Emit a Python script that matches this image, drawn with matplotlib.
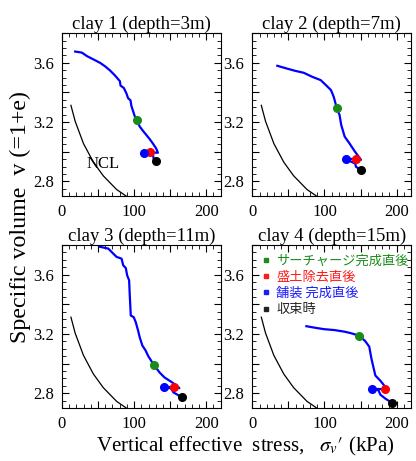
import matplotlib
matplotlib.use('Agg')
import matplotlib.pyplot as plt
from matplotlib.ticker import MultipleLocator, FuncFormatter
from matplotlib.lines import Line2D

plt.rcParams['font.family'] = ['Liberation Serif', 'Noto Sans CJK JP']
plt.rcParams['mathtext.fontset'] = 'stix'

titles = ['clay 1 (depth=3m)', 'clay 2 (depth=7m)',
          'clay 3 (depth=11m)', 'clay 4 (depth=15m)']

# stress path of each layer (kPa, specific volume)
clay1_s = [18.3, 27.5, 34.4, 43.6, 52.8, 59.6, 66.5, 73.4, 80.3, 81.2, 85.8, 89.4,
           91.7, 95.0, 96.3, 98.6, 100.9, 103.7, 107.8, 112.4, 117.0, 121.6, 126.1,
           130.7, 133.0, 122.5, 113.8, 126.1, 127.1, 130.7]
clay1_v = [3.676, 3.669, 3.646, 3.623, 3.600, 3.577, 3.549, 3.515, 3.476, 3.446, 3.430,
           3.393, 3.361, 3.347, 3.308, 3.274, 3.239, 3.211, 3.170, 3.140, 3.113, 3.085,
           3.055, 3.021, 2.993, 2.995, 2.993, 2.984, 2.952, 2.936]
clay2_s = [34.6, 47.4, 59.2, 71.1, 82.9, 94.8, 101.9, 109.0, 112.8, 117.1, 120.9,
           123.2, 128.0, 135.1, 142.2, 150.7, 143.1, 129.4, 142.7, 143.6, 150.7]
clay2_v = [3.580, 3.562, 3.546, 3.533, 3.506, 3.483, 3.450, 3.416, 3.371, 3.293, 3.248,
           3.181, 3.102, 3.053, 3.001, 2.945, 2.952, 2.950, 2.920, 2.898, 2.878]
clay3_s = [52.8, 64.2, 71.1, 75.7, 82.6, 84.9, 88.5, 90.4, 93.1, 94.0, 95.4, 99.5,
           102.3, 105.5, 107.8, 111.5, 116.1, 119.3, 127.5, 135.3, 142.2, 151.4, 158.3,
           162.8, 156.0, 141.3, 151.4, 154.6, 166.1]
clay3_v = [3.788, 3.776, 3.742, 3.720, 3.708, 3.663, 3.645, 3.595, 3.562, 3.460, 3.324,
           3.313, 3.279, 3.223, 3.177, 3.121, 3.087, 3.053, 2.990, 2.940, 2.906, 2.877,
           2.854, 2.834, 2.843, 2.841, 2.832, 2.805, 2.773]
clay4_s = [74.9, 87.7, 99.5, 113.7, 128.0, 137.4, 147.9, 156.4, 162.1, 165.0, 168.2,
           170.6, 177.7, 183.9, 183.4, 165.9, 174.4, 177.7, 184.8, 194.3]
clay4_v = [3.252, 3.241, 3.232, 3.226, 3.215, 3.204, 3.188, 3.152, 3.114, 3.036, 2.968,
           2.919, 2.883, 2.845, 2.827, 2.829, 2.823, 2.789, 2.762, 2.733]

paths_s = [clay1_s, clay2_s, clay3_s, clay4_s]
paths_v = [clay1_v, clay2_v, clay3_v, clay4_v]

# key points: surcharge done, fill removed, paving done, converged
green_pts = [(103.7, 3.211), (117.1, 3.293), (127.5, 2.990), (147.9, 3.188)]
red_pts = [(122.5, 2.995), (143.1, 2.952), (156.0, 2.843), (183.4, 2.827)]
blue_pts = [(113.8, 2.993), (129.4, 2.950), (141.3, 2.841), (165.9, 2.829)]
black_pts = [(130.7, 2.936), (150.7, 2.878), (166.1, 2.773), (194.3, 2.733)]

# normal consolidation line
ncl_s = [12.4, 18.3, 29.8, 43.6, 57.3, 75.7, 89.4]
ncl_v = [3.313, 3.205, 3.055, 2.929, 2.837, 2.745, 2.699]

labels = ['サーチャージ完成直後', '盛土除去直後', '舗装 完成直後', '収束時']
colors = ['#1a8c1a', '#ff1a1a', '#1a1aff', '#222222']

fig, axes = plt.subplots(2, 2, figsize=(4.16, 4.61), dpi=100)
fig.subplots_adjust(left=0.149, right=0.988, top=0.928, bottom=0.115,
                    wspace=0.2, hspace=0.3)

for i, ax in enumerate(axes.flat):
    ax.plot(ncl_s, ncl_v, color='black', lw=0.9)
    ax.plot(paths_s[i], paths_v[i], color='blue', lw=1.6)
    for pts, c in zip([green_pts, red_pts, blue_pts, black_pts],
                      ['#1a8c1a', 'red', 'blue', 'black']):
        ax.plot(pts[i][0], pts[i][1], 'o', color=c, ms=5.5, zorder=5)
    ax.set_xlim(0, 220)
    ax.set_ylim(2.7, 3.8)
    ax.set_title(titles[i], fontsize=13.5, pad=3)
    ax.xaxis.set_major_locator(MultipleLocator(50))
    ax.xaxis.set_minor_locator(MultipleLocator(10))
    ax.yaxis.set_major_locator(MultipleLocator(0.2))
    ax.yaxis.set_minor_locator(MultipleLocator(0.05))
    ax.xaxis.set_major_formatter(FuncFormatter(
        lambda x, p: '%d' % x if abs(x % 100) < 1e-6 else ''))
    ax.yaxis.set_major_formatter(FuncFormatter(
        lambda y, p: '%.1f' % y if abs(round(y * 10) % 4 - 0) < 1e-6 else ''))
    ax.tick_params(which='both', direction='in', top=True, right=True, labelsize=12)
    ax.tick_params(which='major', length=5, pad=6)
    ax.tick_params(which='minor', length=3)

axes[0, 0].text(57, 2.914, 'NCL', fontsize=12, ha='center', va='center')

handles = [Line2D([], [], ls='none', marker='s', ms=2.5, color=c) for c in colors]
leg = axes[1, 1].legend(handles, labels, loc='upper left', frameon=False,
                        handlelength=0.6, handletextpad=0.5,
                        labelspacing=0.25, borderaxespad=0.3,
                        prop={'family': 'Noto Sans CJK JP', 'size': 9.5})
for t, c in zip(leg.get_texts(), colors):
    t.set_color(c)

fig.text(20 / 416, 1 - 217 / 461, 'Specific volume  v (=1+e)', rotation=90,
         fontsize=17.3, ha='center', va='center')
fig.text(245 / 416, 1 - 446 / 461,
         r'Vertical effective  stress,   $\sigma_{v}\prime$ (kPa)',
         fontsize=15, ha='center', va='center')

fig.savefig('out.png', dpi=100)
